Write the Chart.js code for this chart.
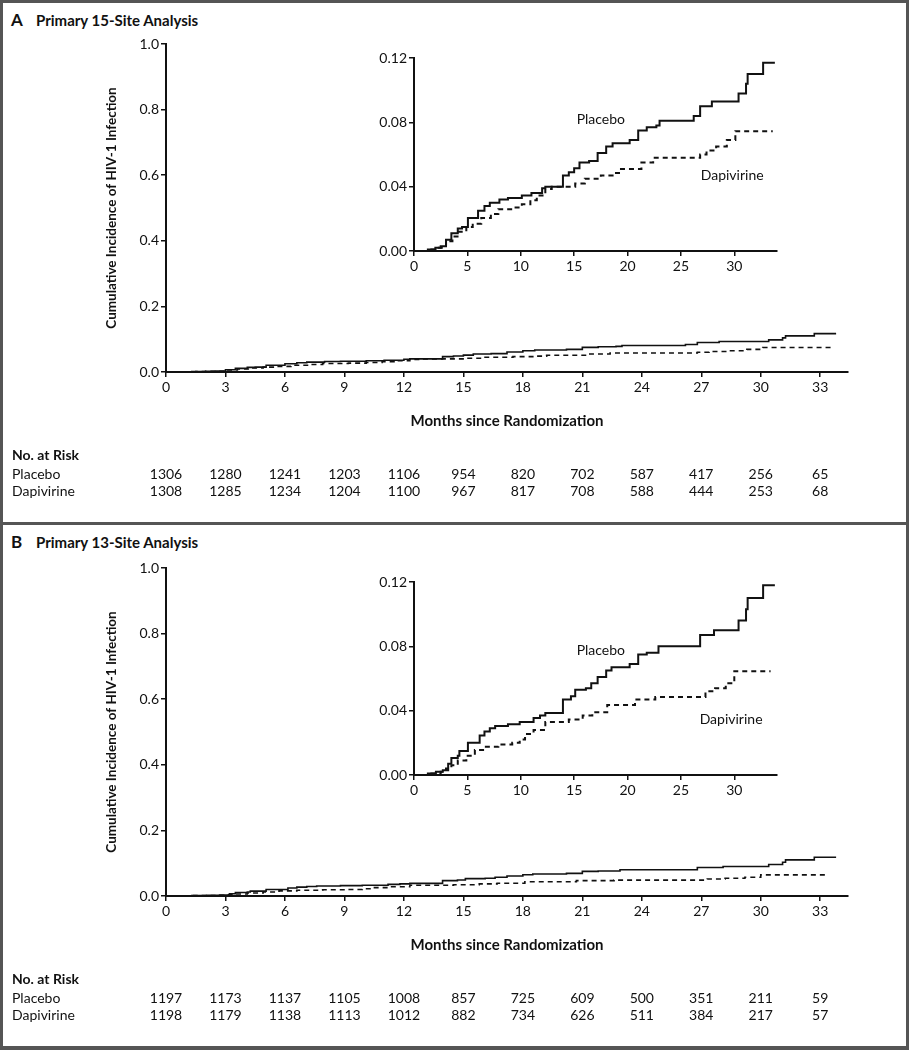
<!DOCTYPE html>
<html>
<head>
<meta charset="utf-8">
<title>Cumulative Incidence of HIV-1 Infection</title>
<script src="https://cdn.jsdelivr.net/npm/chart.js@4.4.1/dist/chart.umd.min.js"></script>
<style>
  body { margin: 0; background: #fff; }
  #page { position: relative; width: 909px; height: 1050px; background: #fff; overflow: hidden;
          font-family: Lato, "Noto Sans", sans-serif; color: #111; }
  .frame { position: absolute; background: #555; }
  .title { position: absolute; left: 11px; height: 20px; line-height: 20px; font-weight: bold; white-space: nowrap; }
  .title .letter { font-size: 17px; display: inline-block; width: 25px; }
  .title .txt { font-size: 15px; }
  canvas { position: absolute; }
</style>
</head>
<body>
<div id="page">
  <div class="frame" style="left:0;top:0;width:909px;height:3px"></div>
  <div class="frame" style="left:0;top:0;width:3px;height:1050px"></div>
  <div class="frame" style="left:906px;top:0;width:3px;height:1050px"></div>
  <div class="frame" style="left:0;top:522px;width:909px;height:3px"></div>
  <div class="frame" style="left:0;top:1046px;width:909px;height:4px"></div>

  <div class="title" style="top:10px"><span class="letter">A</span><span class="txt">Primary 15-Site Analysis</span></div>
  <div class="title" style="top:532px"><span class="letter">B</span><span class="txt">Primary 13-Site Analysis</span></div>

  <canvas id="mainA" width="909" height="520" style="left:0;top:0"></canvas>
  <canvas id="insetA" width="420" height="240" style="left:370px;top:40px"></canvas>
  <canvas id="mainB" width="909" height="520" style="left:0;top:524px"></canvas>
  <canvas id="insetB" width="420" height="240" style="left:370px;top:564px"></canvas>
</div>

<script>
// Ticks
const xTicksMain = [0, 3, 6, 9, 12, 15, 18, 21, 24, 27, 30, 33];
const yTicksMain = [0, 0.2, 0.4, 0.6, 0.8, 1.0];
const xTicksInset = [0, 5, 10, 15, 20, 25, 30];
const yTicksInset = [0, 0.04, 0.08, 0.12];
const riskMonths = [0, 3, 6, 9, 12, 15, 18, 21, 24, 27, 30, 33];

// A: primary 15-site analysis
const placeboAMonths = [0, 1.3, 2.0, 2.5, 3.0, 3.5, 4.1, 4.5, 5.05, 6.0, 6.6, 7.1, 8.0, 8.8, 10.1, 11.0, 12.0, 12.3,
  13.95, 14.5, 15.0, 15.5, 16.4, 17.2, 18.0, 18.6, 20.2, 21.0, 21.8, 22.7, 23.0, 26.2, 26.8, 27.9, 30.4, 31.1, 31.25, 32.7, 33.8];
const placeboAIncidence = [0, 0.001, 0.002, 0.003, 0.007, 0.011, 0.014, 0.015, 0.0205, 0.025, 0.028, 0.030, 0.032, 0.033, 0.0345, 0.036, 0.039, 0.040,
  0.047, 0.049, 0.0515, 0.055, 0.056, 0.061, 0.065, 0.067, 0.069, 0.075, 0.077, 0.078, 0.081, 0.084, 0.090, 0.093, 0.098, 0.104, 0.110, 0.117, 0.117];
const dapivirineAMonths = [0, 1.5, 2.0, 3.0, 3.6, 4.2, 4.9, 5.5, 6.3, 7.2, 7.9, 9.2, 10.1, 10.9, 11.5, 12.3, 12.9,
  15.1, 16.0, 17.5, 18.6, 19.2, 21.3, 22.4, 26.8, 27.4, 28.3, 29.3, 30.1, 33.6];
const dapivirineAIncidence = [0, 0.001, 0.002, 0.006, 0.009, 0.012, 0.015, 0.017, 0.0205, 0.023, 0.026, 0.027, 0.029, 0.0315, 0.0345, 0.0385, 0.040,
  0.042, 0.045, 0.047, 0.0485, 0.051, 0.055, 0.058, 0.060, 0.0625, 0.065, 0.069, 0.0745, 0.0745];
const riskPlaceboA = [1306, 1280, 1241, 1203, 1106, 954, 820, 702, 587, 417, 256, 65];
const riskDapivirineA = [1308, 1285, 1234, 1204, 1100, 967, 817, 708, 588, 444, 253, 68];

// B: primary 13-site analysis
const placeboBMonths = [0, 1.3, 2.05, 2.7, 3.2, 3.5, 4.1, 4.25, 5.05, 6.15, 6.6, 7.1, 7.6, 8.8, 9.9, 11.2, 11.8, 12.3,
  13.95, 14.7, 15.1, 16.1, 16.6, 17.2, 18.0, 18.5, 20.2, 21.0, 21.8, 22.9, 26.8, 28.1, 30.4, 31.1, 31.25, 32.7, 33.8];
const placeboBIncidence = [0, 0.001, 0.002, 0.003, 0.007, 0.0105, 0.012, 0.015, 0.020, 0.0245, 0.027, 0.029, 0.0305, 0.0315, 0.033, 0.0355, 0.037, 0.0385,
  0.047, 0.049, 0.053, 0.054, 0.057, 0.061, 0.065, 0.067, 0.069, 0.075, 0.076, 0.080, 0.087, 0.090, 0.096, 0.103, 0.110, 0.118, 0.118];
const dapivirineBMonths = [0, 1.3, 2.5, 3.0, 3.5, 4.1, 4.9, 5.7, 6.6, 7.9, 9.2, 9.9, 10.4, 11.2, 12.3,
  14.5, 15.8, 16.7, 18.1, 20.7, 22.6, 27.3, 28.2, 29.2, 30.0, 33.4];
const dapivirineBIncidence = [0, 0.001, 0.002, 0.004, 0.006, 0.009, 0.012, 0.0155, 0.0175, 0.019, 0.020, 0.022, 0.0255, 0.028, 0.033,
  0.0345, 0.037, 0.039, 0.0435, 0.047, 0.0485, 0.052, 0.054, 0.057, 0.0645, 0.0645];
const riskPlaceboB = [1197, 1173, 1137, 1105, 1008, 857, 725, 609, 500, 351, 211, 59];
const riskDapivirineB = [1198, 1179, 1138, 1113, 1012, 882, 734, 626, 511, 384, 217, 57];

const FONT = 'Lato, "Noto Sans", sans-serif';
const INK = '#111';
Chart.defaults.font.family = FONT;
Chart.defaults.color = INK;

function toPoints(months, values) {
  return months.map((m, i) => ({ x: m, y: values[i] }));
}

function curves(pm, pv, dm, dv, width) {
  return [
    { label: 'Placebo', data: toPoints(pm, pv), borderColor: INK, borderWidth: width,
      stepped: true, pointRadius: 0, fill: false },
    { label: 'Dapivirine', data: toPoints(dm, dv), borderColor: INK, borderWidth: width,
      borderDash: [5, 4], stepped: true, pointRadius: 0, fill: false }
  ];
}

function axis(tickList, min, max, decimals, extra) {
  return Object.assign({
    type: 'linear', min: min, max: max,
    afterBuildTicks: s => { s.ticks = tickList.map(v => ({ value: v })); },
    ticks: { color: INK, font: { size: 14 }, padding: 2, autoSkip: false, maxRotation: 0,
             callback: v => decimals == null ? v : Number(v).toFixed(decimals) },
    grid: { drawOnChartArea: false, drawTicks: true, tickLength: 5, color: INK, lineWidth: 1.5 },
    border: { display: true, color: INK, width: 2 }
  }, extra);
}

// No. at Risk table under the x axis, columns from the x scale
function riskTable(placebo, dapivirine) {
  return {
    id: 'riskTable',
    afterDraw(chart) {
      const ctx = chart.ctx, x = chart.scales.x;
      ctx.save();
      ctx.fillStyle = INK;
      ctx.textBaseline = 'middle';
      ctx.textAlign = 'left';
      ctx.font = 'bold 14px ' + FONT;
      ctx.fillText('No. at Risk', 12, 455);
      ctx.font = '14px ' + FONT;
      ctx.fillText('Placebo', 12, 474);
      ctx.fillText('Dapivirine', 12, 491);
      ctx.textAlign = 'center';
      riskMonths.forEach((m, i) => {
        const px = x.getPixelForValue(m);
        ctx.fillText(String(placebo[i]), px, 474);
        ctx.fillText(String(dapivirine[i]), px, 491);
      });
      ctx.restore();
    }
  };
}

// curve names inside the inset, placed in data coordinates
function curveLabels(items) {
  return {
    id: 'curveLabels',
    afterDraw(chart) {
      const ctx = chart.ctx, x = chart.scales.x, y = chart.scales.y;
      ctx.save();
      ctx.fillStyle = INK;
      ctx.font = '14px ' + FONT;
      ctx.textAlign = 'center';
      ctx.textBaseline = 'middle';
      items.forEach(it => ctx.fillText(it.text, x.getPixelForValue(it.month), y.getPixelForValue(it.value)));
      ctx.restore();
    }
  };
}

function mainChart(id, pm, pv, dm, dv, riskP, riskD) {
  return new Chart(document.getElementById(id), {
    type: 'line',
    data: { datasets: curves(pm, pv, dm, dv, 1.6) },
    options: {
      responsive: false,
      animation: false,
      layout: { padding: { left: 104, top: 44, right: 61, bottom: 90 } },
      plugins: { legend: { display: false }, tooltip: { enabled: false } },
      scales: {
        x: axis(xTicksMain, 0, 34.4, null, {
          afterFit: s => { s.height = 58; },
          title: { display: true, text: 'Months since Randomization', color: INK,
                   font: { size: 15, weight: 'bold' }, padding: { top: 0, bottom: 0 } }
        }),
        y: axis(yTicksMain, 0, 1, 1, {
          afterFit: s => { s.width = 62; },
          title: { display: true, text: 'Cumulative Incidence of HIV-1 Infection', color: INK,
                   font: { size: 13.5, weight: 'bold' }, padding: { top: 0, bottom: 0 } }
        })
      }
    },
    plugins: [riskTable(riskP, riskD)]
  });
}

function insetChart(id, pm, pv, dm, dv, labels) {
  return new Chart(document.getElementById(id), {
    type: 'line',
    data: { datasets: curves(pm, pv, dm, dv, 2) },
    options: {
      responsive: false,
      animation: false,
      layout: { padding: { left: 0, top: 18, right: 13, bottom: 5 } },
      plugins: { legend: { display: false }, tooltip: { enabled: false } },
      scales: {
        x: axis(xTicksInset, 0, 34, null, { afterFit: s => { s.height = 24; } }),
        y: axis(yTicksInset, 0, 0.12, 2, { afterFit: s => { s.width = 44; } })
      }
    },
    plugins: [curveLabels(labels)]
  });
}

mainChart('mainA', placeboAMonths, placeboAIncidence, dapivirineAMonths, dapivirineAIncidence, riskPlaceboA, riskDapivirineA);
insetChart('insetA', placeboAMonths, placeboAIncidence, dapivirineAMonths, dapivirineAIncidence,
  [{ text: 'Placebo', month: 17.5, value: 0.0816 }, { text: 'Dapivirine', month: 29.8, value: 0.047 }]);
mainChart('mainB', placeboBMonths, placeboBIncidence, dapivirineBMonths, dapivirineBIncidence, riskPlaceboB, riskDapivirineB);
insetChart('insetB', placeboBMonths, placeboBIncidence, dapivirineBMonths, dapivirineBIncidence,
  [{ text: 'Placebo', month: 17.5, value: 0.0773 }, { text: 'Dapivirine', month: 29.7, value: 0.0344 }]);
</script>
</body>
</html>
